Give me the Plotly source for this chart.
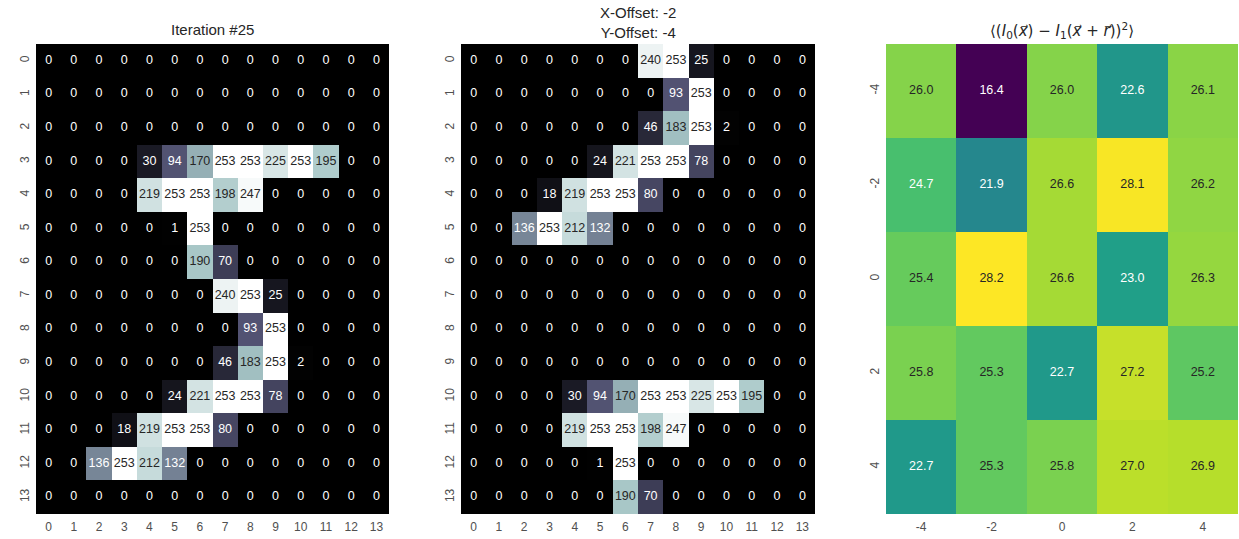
import numpy as np
import plotly.graph_objects as go
import plotly.colors as pc

# Digit image at iteration 25 (14 x 14 grey levels)
image_iter = [
    [0, 0, 0, 0, 0, 0, 0, 0, 0, 0, 0, 0, 0, 0],
    [0, 0, 0, 0, 0, 0, 0, 0, 0, 0, 0, 0, 0, 0],
    [0, 0, 0, 0, 0, 0, 0, 0, 0, 0, 0, 0, 0, 0],
    [0, 0, 0, 0, 30, 94, 170, 253, 253, 225, 253, 195, 0, 0],
    [0, 0, 0, 0, 219, 253, 253, 198, 247, 0, 0, 0, 0, 0],
    [0, 0, 0, 0, 0, 1, 253, 0, 0, 0, 0, 0, 0, 0],
    [0, 0, 0, 0, 0, 0, 190, 70, 0, 0, 0, 0, 0, 0],
    [0, 0, 0, 0, 0, 0, 0, 240, 253, 25, 0, 0, 0, 0],
    [0, 0, 0, 0, 0, 0, 0, 0, 93, 253, 0, 0, 0, 0],
    [0, 0, 0, 0, 0, 0, 0, 46, 183, 253, 2, 0, 0, 0],
    [0, 0, 0, 0, 0, 24, 221, 253, 253, 78, 0, 0, 0, 0],
    [0, 0, 0, 18, 219, 253, 253, 80, 0, 0, 0, 0, 0, 0],
    [0, 0, 136, 253, 212, 132, 0, 0, 0, 0, 0, 0, 0, 0],
    [0, 0, 0, 0, 0, 0, 0, 0, 0, 0, 0, 0, 0, 0],
]

# Same digit after applying the offset
image_shifted = [
    [0, 0, 0, 0, 0, 0, 0, 240, 253, 25, 0, 0, 0, 0],
    [0, 0, 0, 0, 0, 0, 0, 0, 93, 253, 0, 0, 0, 0],
    [0, 0, 0, 0, 0, 0, 0, 46, 183, 253, 2, 0, 0, 0],
    [0, 0, 0, 0, 0, 24, 221, 253, 253, 78, 0, 0, 0, 0],
    [0, 0, 0, 18, 219, 253, 253, 80, 0, 0, 0, 0, 0, 0],
    [0, 0, 136, 253, 212, 132, 0, 0, 0, 0, 0, 0, 0, 0],
    [0, 0, 0, 0, 0, 0, 0, 0, 0, 0, 0, 0, 0, 0],
    [0, 0, 0, 0, 0, 0, 0, 0, 0, 0, 0, 0, 0, 0],
    [0, 0, 0, 0, 0, 0, 0, 0, 0, 0, 0, 0, 0, 0],
    [0, 0, 0, 0, 0, 0, 0, 0, 0, 0, 0, 0, 0, 0],
    [0, 0, 0, 0, 30, 94, 170, 253, 253, 225, 253, 195, 0, 0],
    [0, 0, 0, 0, 219, 253, 253, 198, 247, 0, 0, 0, 0, 0],
    [0, 0, 0, 0, 0, 1, 253, 0, 0, 0, 0, 0, 0, 0],
    [0, 0, 0, 0, 0, 0, 190, 70, 0, 0, 0, 0, 0, 0],
]

pixel_labels = [str(i) for i in range(14)]

# Mean squared difference for each (y, x) offset
offsets = [-4, -2, 0, 2, 4]
msd = [
    [26.0, 16.4, 26.0, 22.6, 26.1],
    [24.7, 21.9, 26.6, 28.1, 26.2],
    [25.4, 28.2, 26.6, 23.0, 26.3],
    [25.8, 25.3, 22.7, 27.2, 25.2],
    [22.7, 25.3, 25.8, 27.0, 26.9],
]

titles = ["Iteration #25", "X-Offset: -2<br>Y-Offset: -4"]
msd_title = ("⟨(<i>I</i><sub>0</sub>(<i>x⃗</i>) − <i>I</i><sub>1</sub>"
             "(<i>x⃗</i> + <i>r⃗</i>))<sup>2</sup>⟩")

W, H = 1239, 539
FONT = "Liberation Sans, Arial, sans-serif"
DARK = "rgb(38,38,38)"
TICK = "rgb(80,80,80)"

# matplotlib "bone" colormap, piecewise linear
bone_stops = [
    (0.0, (0.0, 0.0, 0.0)),
    (0.365079, (0.319444, 0.319444, 0.444444)),
    (0.746032, (0.652778, 0.777778, 0.777778)),
    (1.0, (1.0, 1.0, 1.0)),
]
bone_scale = [[p, "rgb(%d,%d,%d)" % tuple(round(c * 255) for c in rgb)] for p, rgb in bone_stops]


def bone_rgb(t):
    for (p0, c0), (p1, c1) in zip(bone_stops[:-1], bone_stops[1:]):
        if t <= p1:
            f = (t - p0) / (p1 - p0)
            return tuple(a + (b - a) * f for a, b in zip(c0, c1))
    return bone_stops[-1][1]


viridis_hex = pc.sequential.Viridis
viridis_rgb = [tuple(v / 255 for v in pc.hex_to_rgb(h)) for h in viridis_hex]


def viridis_color(t):
    n = len(viridis_rgb) - 1
    pos = min(max(t, 0), 1) * n
    i = min(int(pos), n - 1)
    f = pos - i
    return tuple(a + (b - a) * f for a, b in zip(viridis_rgb[i], viridis_rgb[i + 1]))


def text_color(rgb):
    arr = np.array(rgb)
    arr = np.where(arr <= 0.03928, arr / 12.92, ((arr + 0.055) / 1.055) ** 2.4)
    lum = arr.dot([0.2126, 0.7152, 0.0722])
    return DARK if lum > 0.40 else "white"


# panel placement (pixels)
left_px = [(36, 389), (461, 815), (886, 1238)]
top_px, bottom_px = 44, 514
ydom = [1 - bottom_px / H, 1 - top_px / H]

fig = go.Figure()
layout = dict(
    width=W, height=H, margin=dict(l=0, r=0, t=0, b=0),
    paper_bgcolor="white", plot_bgcolor="white", showlegend=False,
    font=dict(family=FONT, color=TICK, size=12),
)

for k, img in enumerate([image_iter, image_shifted]):
    z = np.array(img, dtype=float)
    zmax = z.max()
    xa = "x" if k == 0 else "x%d" % (k + 1)
    ya = "y" if k == 0 else "y%d" % (k + 1)
    cols = list(range(14))
    fig.add_trace(go.Heatmap(
        z=z, x=cols, y=cols, colorscale=bone_scale, zmin=0, zmax=zmax,
        showscale=False, xaxis=xa, yaxis=ya, hoverinfo="skip",
    ))
    xs, ys, txt, tc = [], [], [], []
    for r in range(14):
        for c in range(14):
            xs.append(c)
            ys.append(r)
            txt.append(str(int(z[r, c])))
            tc.append(text_color(bone_rgb(z[r, c] / zmax)))
    fig.add_trace(go.Scatter(
        x=xs, y=ys, text=txt, mode="text", xaxis=xa, yaxis=ya,
        textfont=dict(family=FONT, size=12.5, color=tc), hoverinfo="skip",
    ))
    x0, x1 = left_px[k]
    axn = "" if k == 0 else str(k + 1)
    layout["xaxis" + axn] = dict(
        domain=[x0 / W, x1 / W], range=[-0.5, 13.5], anchor=ya,
        tickmode="array", tickvals=cols, ticktext=pixel_labels,
        showgrid=False, zeroline=False, ticks="", showline=False,
        tickfont=dict(size=12, color=TICK), ticklabelstandoff=4,
    )
    layout["yaxis" + axn] = dict(
        domain=ydom, range=[13.5, -0.5], anchor=xa,
        tickmode="array", tickvals=cols, ticktext=pixel_labels, tickangle=-90,
        showgrid=False, zeroline=False, ticks="", showline=False,
        tickfont=dict(size=12, color=TICK), ticklabelstandoff=4,
    )

# offset error map
zm = np.array(msd)
zmin, zmax = zm.min(), zm.max()
idx = list(range(5))
fig.add_trace(go.Heatmap(
    z=zm, x=idx, y=idx, colorscale="Viridis", zmin=zmin, zmax=zmax,
    showscale=False, xaxis="x3", yaxis="y3", hoverinfo="skip",
))
xs, ys, txt, tc = [], [], [], []
for r in range(5):
    for c in range(5):
        xs.append(c)
        ys.append(r)
        txt.append("%.1f" % zm[r, c])
        tc.append(text_color(viridis_color((zm[r, c] - zmin) / (zmax - zmin))))
fig.add_trace(go.Scatter(
    x=xs, y=ys, text=txt, mode="text", xaxis="x3", yaxis="y3",
    textfont=dict(family=FONT, size=12.5, color=tc), hoverinfo="skip",
))
x0, x1 = left_px[2]
layout["xaxis3"] = dict(
    domain=[x0 / W, x1 / W], range=[-0.5, 4.5], anchor="y3",
    tickmode="array", tickvals=idx, ticktext=[str(o) for o in offsets],
    showgrid=False, zeroline=False, ticks="", showline=False,
    tickfont=dict(size=12, color=TICK), ticklabelstandoff=4,
)
layout["yaxis3"] = dict(
    domain=ydom, range=[4.5, -0.5], anchor="x3",
    tickmode="array", tickvals=idx, ticktext=[str(o) for o in offsets], tickangle=-90,
    showgrid=False, zeroline=False, ticks="", showline=False,
    tickfont=dict(size=12, color=TICK), ticklabelstandoff=4,
)

# panel titles
annotations = []
title_shift = [4, 1]
for k, t in enumerate(titles):
    x0, x1 = left_px[k]
    annotations.append(dict(
        text=t, x=(x0 + x1) / 2 / W, y=1 - (top_px - title_shift[k]) / H,
        xref="paper", yref="paper", xanchor="center", yanchor="bottom", showarrow=False,
        font=dict(family=FONT, size=15, color=DARK),
    ))
x0, x1 = left_px[2]
annotations.append(dict(
    text=msd_title, x=(x0 + x1) / 2 / W, y=1 - (top_px - 1) / H, xref="paper", yref="paper",
    xanchor="center", yanchor="bottom", showarrow=False,
    font=dict(family="DejaVu Sans, sans-serif", size=15, color=DARK),
))
layout["annotations"] = annotations

fig.update_layout(**layout)
fig.write_html("out.html")
